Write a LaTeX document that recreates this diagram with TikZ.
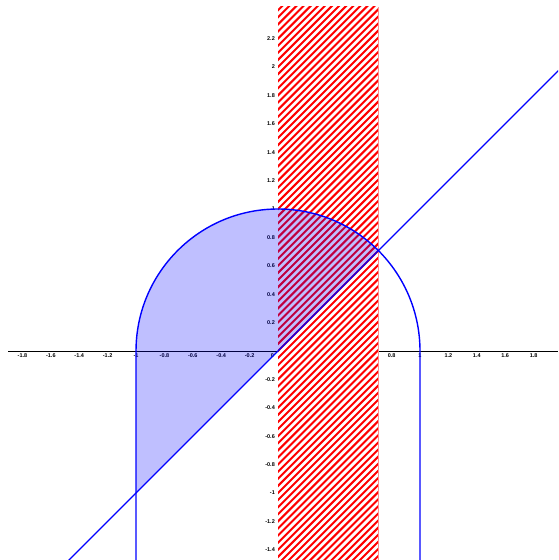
\documentclass[tikz,border=0pt]{standalone}
\usepackage{fontspec}
\newfontfamily\lblfont{Liberation Sans}
\usetikzlibrary{calc}
\tikzset{
    axisline/.style={black,line width=0.9pt},
    curve/.style={blue,line width=1.4pt},
    hatchline/.style={red,line width=2pt},
    region/.style={fill=blue,fill opacity=0.25},
    ticklbl/.style={font=\lblfont\bfseries\fontsize{5.5}{6}\selectfont,inner sep=0pt}
}
\begin{document}
\begin{tikzpicture}[x=142pt,y=142pt]
    \useasboundingbox (-1.958,-1.472) rectangle (1.972,2.472);
    \clip (-1.958,-1.472) rectangle (1.972,2.472);
    % axis and labels
    \draw[axisline] (-1.9,0) -- (1.972,0);
    \foreach \v [count=\i] in {-1.8,-1.6,-1.4,-1.2,-1,-0.8,-0.6,-0.4,-0.2,0.8,1,1.2,1.4,1.6,1.8}
        \node[ticklbl,anchor=north] (xl\i) at (\v,-0.018) {\v};
    \node[ticklbl] (zero) at (-0.04,-0.035) {0};
    \foreach \v [count=\i] in {2.2,2,1.8,1.6,1.4,1.2,1,0.8,0.6,0.4,0.2,-0.2,-0.4,-0.6,-0.8,-1,-1.2,-1.4}
        \node[ticklbl,anchor=east] (yl\i) at (-0.021,\v) {\v};
    % hatched strip 0 <= x <= sqrt(2)/2
    \fill[white] (0,-1.48) rectangle (0.7071,2.423);
    \begin{scope}
        \clip (0,-1.48) rectangle (0.7071,2.423);
        \foreach \c in {-2.25,-2.2,...,2.5}
            \draw[hatchline] (0,\c) ++(-0.1,-0.1) -- ++(1,1);
    \end{scope}
    \draw[red!45,line width=0.8pt] (0.7071,-1.48) -- (0.7071,2.423);
    % shaded region
    \fill[region] (-1,-1) -- (-1,0) arc (180:45:1) -- cycle;
    % curves
    \draw[curve] (-1,-1.48) -- (-1,0) arc (180:0:1) -- (1,-1.48);
    \draw[curve] (-1.48,-1.48) -- (1.98,1.98);
\end{tikzpicture}
\end{document}
